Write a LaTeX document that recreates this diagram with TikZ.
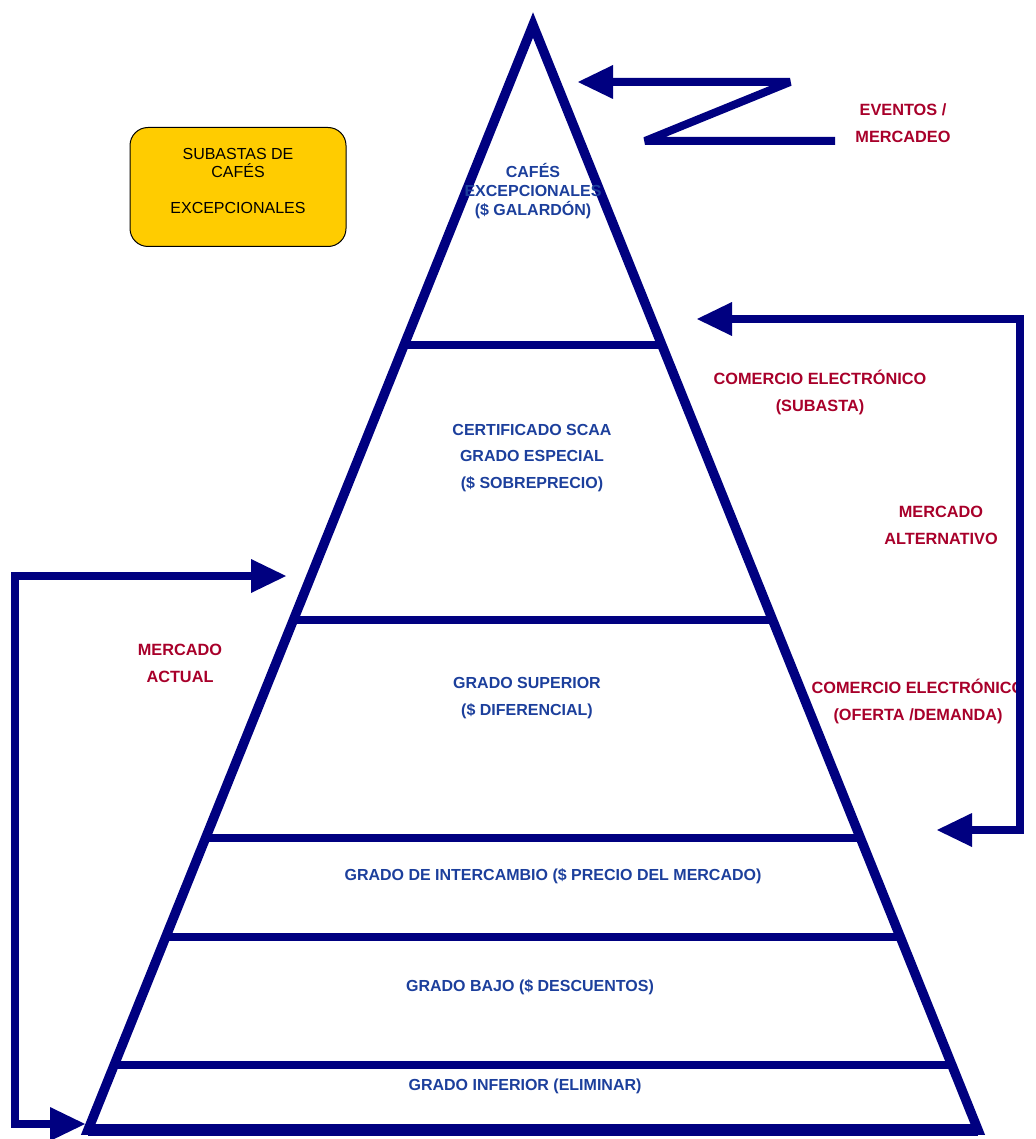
\documentclass[tikz,border=0pt]{standalone}
\usepackage{fontspec}
\setmainfont{Liberation Sans}
\usepackage{tikz}
\usetikzlibrary{arrows.meta,calc}
\definecolor{navy}{HTML}{000080}
\definecolor{levelblue}{HTML}{1C3F9C}
\definecolor{marketred}{HTML}{A8002A}
\definecolor{gold}{HTML}{FFCC00}

\begin{document}
\begin{tikzpicture}[
  x=1pt,y=-1pt,
  pyramid/.style={draw=navy,line width=9.5pt,line join=miter},
  level/.style={draw=navy,line width=8pt},
  grade/.style={text=levelblue,align=center,font={\fontsize{16}{26.5}\selectfont\bfseries}},
  tight/.style={font={\fontsize{16}{19}\selectfont\bfseries}},
  market/.style={text=marketred,align=center,font={\fontsize{16.3}{27}\selectfont\bfseries}},
  auction/.style={draw=black,line width=1pt,fill=gold,rounded corners=18pt,minimum width=216pt,minimum height=119pt,align=center,font={\fontsize{16}{18}\selectfont}},
  arrow/.style={draw=navy,line width=8pt,miter limit=2,-{Triangle[length=35pt,width=34pt,line width=0pt]}},
  twoway/.style={arrow,{Triangle[length=35pt,width=34pt,line width=0pt]}-{Triangle[length=35pt,width=34pt,line width=0pt]}}
]
\useasboundingbox (0,0) rectangle (1035,1139);

% pyramid
\coordinate (apex) at (533,25);
\coordinate (bl) at (88,1130);
\coordinate (br) at (978,1130);
\draw[pyramid] (apex) -- (bl) -- (br) -- cycle;
\draw[pyramid,line width=12pt] (bl) -- (br);
\foreach \y in {345,620,838,937,1065}
  \draw[level] ($(apex)!{(\y-25)/1105}!(bl)$) -- ($(apex)!{(\y-25)/1105}!(br)$);

% grades
\node[grade,tight] (excepcional) at (533,191) {CAFÉS\\EXCEPCIONALES\\(\$ GALARDÓN)};
\node[grade] (especial) at (532,458) {CERTIFICADO SCAA\\GRADO ESPECIAL\\(\$ SOBREPRECIO)};
\node[grade] (superior) at (527,698) {GRADO SUPERIOR\\(\$ DIFERENCIAL)};
\node[grade] (intercambio) at (553,876) {GRADO DE INTERCAMBIO (\$ PRECIO DEL MERCADO)};
\node[grade] (bajo) at (530,987) {GRADO BAJO (\$ DESCUENTOS)};
\node[grade] (inferior) at (525,1086) {GRADO INFERIOR (ELIMINAR)};

% markets
\node[market] (eventos) at (903,123) {EVENTOS /\\MERCADEO};
\node[market] (subasta) at (820,392) {COMERCIO ELECTRÓNICO\\(SUBASTA)};
\node[market] (alternativo) at (941,525) {MERCADO\\ALTERNATIVO};
\node[market] (oferta) at (918,701) {COMERCIO ELECTRÓNICO\\(OFERTA /DEMANDA)};
\node[market] (actual) at (180,663) {MERCADO\\ACTUAL};

\node[auction] (subastas) at (238,187) {SUBASTAS DE\\CAFÉS\\[18pt]EXCEPCIONALES\\[-6pt]~};

% arrows
\coordinate (zstart) at (835,141);
\coordinate (zlow) at (645,141);
\coordinate (zhigh) at (790,82);
\coordinate (ztip) at (578,82);
\draw[arrow] (zstart) -- (zlow) -- (zhigh) -- (ztip);

\coordinate (alttop) at (697,319);
\coordinate (alttopc) at (1020,319);
\coordinate (altbotc) at (1020,830);
\coordinate (altbot) at (937,830);
\draw[twoway] (alttop) -- (alttopc) -- (altbotc) -- (altbot);

\coordinate (acttop) at (286,576);
\coordinate (acttopc) at (15,576);
\coordinate (actbotc) at (15,1124);
\coordinate (actbot) at (85,1124);
\draw[twoway] (acttop) -- (acttopc) -- (actbotc) -- (actbot);
\end{tikzpicture}
\end{document}
